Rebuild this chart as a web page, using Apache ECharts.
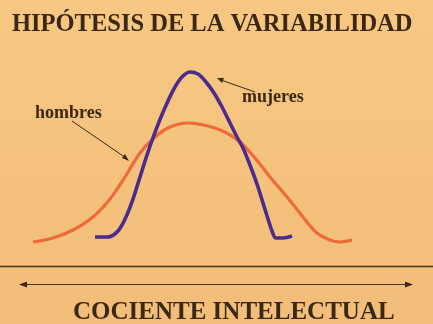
<!DOCTYPE html>
<html>
<head>
<meta charset="utf-8">
<script src="https://cdn.jsdelivr.net/npm/echarts@6/dist/echarts.min.js"></script>
<style>
html,body{margin:0;padding:0;background:#f4c27d;}
#chart{width:433px;height:324px;}
</style>
</head>
<body>
<div id="chart"></div>
<script>
// Curve samples: [position on the IQ axis, relative frequency]
const hombresX = [33, 53, 73, 93, 110, 125, 140, 155, 170, 188, 208, 225, 240, 255, 270, 287, 303, 317, 330, 340, 352];
const hombresY = [3, 7, 15, 28, 46, 68, 92, 108, 118, 122, 119, 113, 103, 87, 68, 48, 28, 12, 5, 3, 5];
const mujeresX = [95, 108, 118, 126, 133, 140, 147, 154, 161, 168, 175, 182, 190, 198, 206, 214, 222, 230, 237, 243, 248, 253, 258, 263, 268, 272, 276, 283, 292];
const mujeresY = [8, 8, 14, 28, 46, 68, 90, 110, 128, 144, 158, 168, 173, 171, 163, 152, 138, 122, 108, 97, 85, 72, 58, 42, 26, 14, 7, 7, 9];
const titleText = 'HIPÓTESIS DE LA VARIABILIDAD';
const axisText = 'COCIENTE INTELECTUAL';
const labelH = 'hombres';
const labelM = 'mujeres';

const zip = (xs, ys) => xs.map((x, i) => [x, ys[i]]);
const ink = '#3a2812';
const serif = '"Liberation Serif", "DejaVu Serif", serif';

const chart = echarts.init(document.getElementById('chart'));
chart.setOption({
  backgroundColor: {
    type: 'linear', x: 0, y: 0, x2: 0, y2: 1,
    colorStops: [{offset: 0, color: '#f7c883'}, {offset: 1, color: '#f2bd78'}]
  },
  animation: false,
  title: {
    text: titleText, left: 7, top: 7,
    textStyle: {fontFamily: serif, fontWeight: 'bold', fontSize: 24.5, color: ink}
  },
  grid: {left: 0, right: 0, top: 0, bottom: 79},
  xAxis: {type: 'value', min: 0, max: 433, show: false},
  yAxis: {type: 'value', min: 0, max: 245, show: false},
  series: [
    {
      name: labelH, type: 'line', data: zip(hombresX, hombresY), smooth: 0.35,
      showSymbol: false, lineStyle: {color: '#ee6a3a', width: 3.2}
    },
    {
      name: labelM, type: 'line', data: zip(mujeresX, mujeresY), smooth: 0.35,
      showSymbol: false, lineStyle: {color: '#4b2b8c', width: 3.6}
    }
  ],
  graphic: [
    {type: 'text', x: 35, y: 113, style: {text: labelH, font: 'bold 18px ' + serif, fill: ink, verticalAlign: 'middle'}},
    {type: 'text', x: 242, y: 97, style: {text: labelM, font: 'bold 18px ' + serif, fill: ink, verticalAlign: 'middle'}},
    {type: 'line', shape: {x1: 72, y1: 121, x2: 126, y2: 158}, style: {stroke: '#3a2812', lineWidth: 1}},
    {type: 'polygon', shape: {points: [[129, 161], [122, 158], [125, 154]]}, style: {fill: '#3a2812'}},
    {type: 'line', shape: {x1: 255, y1: 92, x2: 221, y2: 80}, style: {stroke: '#3a2812', lineWidth: 1}},
    {type: 'polygon', shape: {points: [[217, 78], [224, 78], [222, 83]]}, style: {fill: '#3a2812'}},
    {type: 'line', shape: {x1: 0, y1: 266.5, x2: 433, y2: 266.5}, style: {stroke: '#4a3015', lineWidth: 1.5}},
    {type: 'line', shape: {x1: 24, y1: 284.5, x2: 408, y2: 284.5}, style: {stroke: '#4a3015', lineWidth: 1.2}},
    {type: 'polygon', shape: {points: [[19, 284.5], [27, 281.5], [27, 287.5]]}, style: {fill: '#3a2812'}},
    {type: 'polygon', shape: {points: [[413, 284.5], [405, 281.5], [405, 287.5]]}, style: {fill: '#3a2812'}},
    {type: 'text', x: 73, y: 313, style: {text: axisText, font: 'bold 25px ' + serif, fill: ink, verticalAlign: 'middle'}}
  ]
});
</script>
</body>
</html>
